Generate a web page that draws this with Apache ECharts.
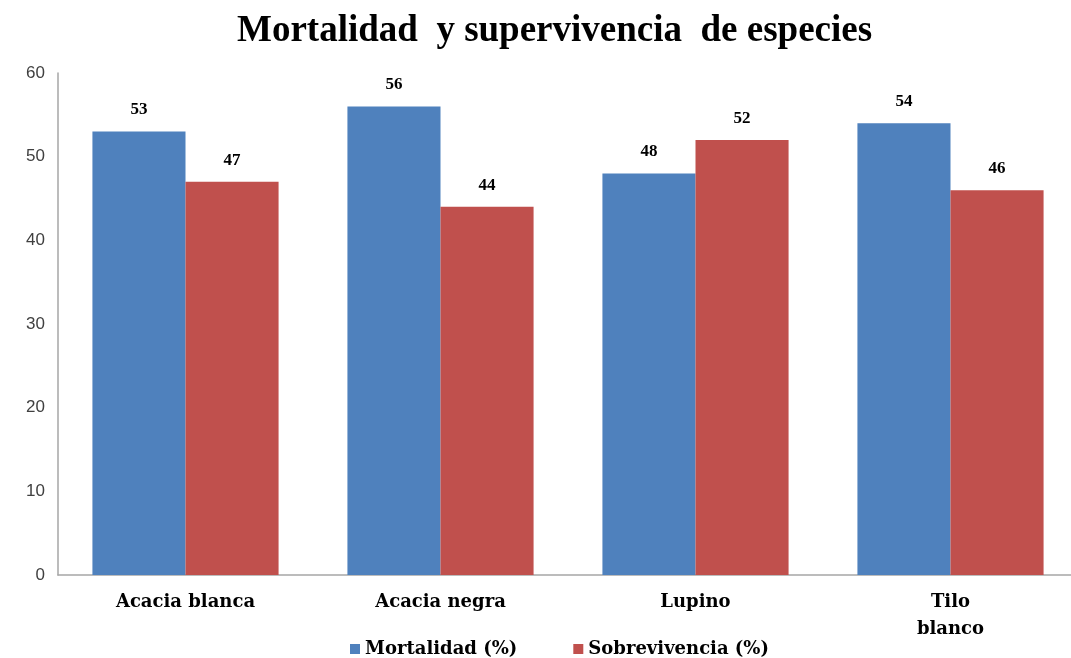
<!DOCTYPE html>
<html><head><meta charset="utf-8">
<script src="https://cdn.jsdelivr.net/npm/echarts@6/dist/echarts.min.js"></script>
<style>html,body{margin:0;padding:0;background:#fff}#c{width:1071px;height:658px}</style>
</head><body><div id="c"></div>
<script>
const categories = ['Acacia blanca', 'Acacia negra', 'Lupino', 'Tilo\nblanco'];
const mortalidad = [53, 56, 48, 54];
const sobrevivencia = [47, 44, 52, 46];
const yTicks = [0, 10, 20, 30, 40, 50, 60];

const serif = '"Liberation Serif", "Times New Roman", serif';
const wideSerif = '"DejaVu Serif", serif';
const chart = echarts.init(document.getElementById('c'));
chart.setOption({
  animation: false,
  title: {
    text: 'Mortalidad  y supervivencia  de especies',
    left: 232, top: 8,
    textStyle: { fontFamily: serif, fontWeight: 'bold', fontSize: 37, color: '#000' }
  },
  legend: {
    top: 635, left: 345,
    itemWidth: 10, itemHeight: 10, itemGap: 56, itemTextGap: 4,
    icon: 'rect',
    textStyle: { fontFamily: wideSerif, fontWeight: 'bold', fontSize: 18, color: '#000' },
    data: ['Mortalidad (%)', 'Sobrevivencia (%)']
  },
  grid: { left: 58, width: 1020, top: 73, bottom: 83, outerBoundsMode: 'none', containLabel: false },
  xAxis: {
    type: 'category', data: categories,
    axisLine: { lineStyle: { color: '#a6a6a6', width: 1.5 } },
    axisTick: { show: false },
    axisLabel: { fontFamily: wideSerif, fontWeight: 'bold', fontSize: 18, color: '#000', margin: 14, lineHeight: 27 }
  },
  yAxis: {
    type: 'value', min: 0, max: 60, interval: 10,
    axisLine: { show: true, lineStyle: { color: '#a6a6a6', width: 1.5 } },
    axisTick: { show: false },
    splitLine: { show: false },
    axisLabel: { fontFamily: '"Liberation Sans", Arial, sans-serif', fontSize: 17, color: '#404040', margin: 13,
      formatter: v => yTicks.includes(v) ? String(v) : '' }
  },
  series: [
    { name: 'Mortalidad (%)', type: 'bar', data: mortalidad, barGap: '0%', barCategoryGap: '27%',
      itemStyle: { color: '#4F81BD' },
      label: { show: true, position: 'top', distance: 13, fontFamily: serif, fontWeight: 'bold', fontSize: 17, color: '#000' } },
    { name: 'Sobrevivencia (%)', type: 'bar', data: sobrevivencia,
      itemStyle: { color: '#C0504D' },
      label: { show: true, position: 'top', distance: 13, fontFamily: serif, fontWeight: 'bold', fontSize: 17, color: '#000' } }
  ]
});
</script></body></html>
